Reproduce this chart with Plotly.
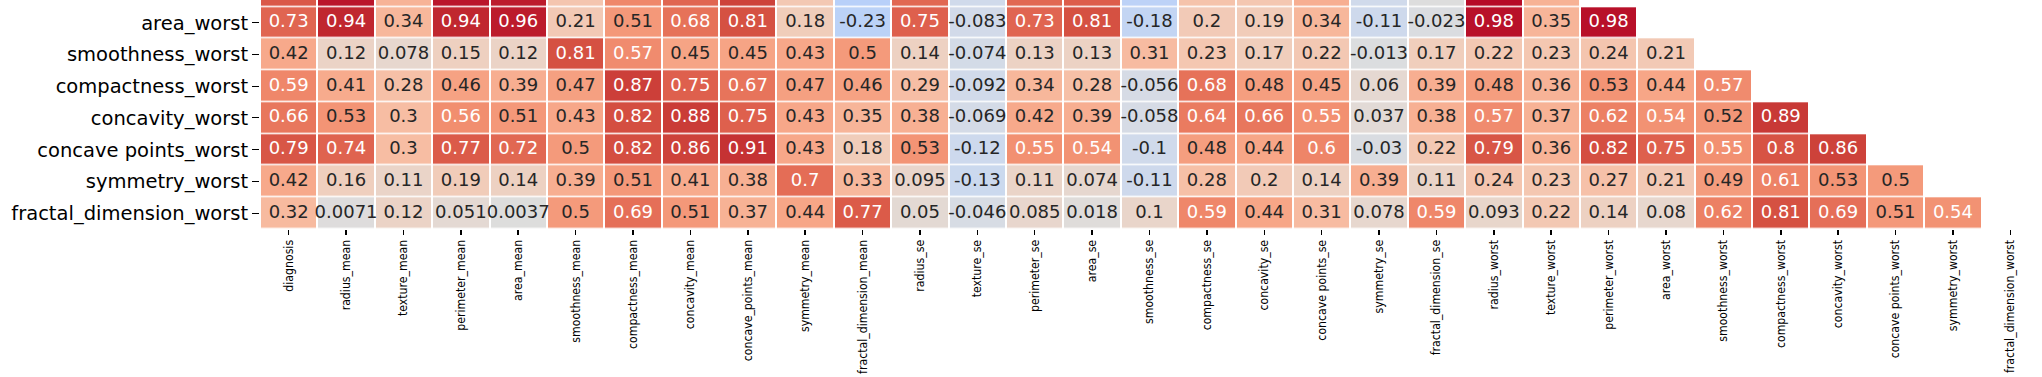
import plotly.graph_objects as go

columns = ["diagnosis", "radius_mean", "texture_mean", "perimeter_mean", "area_mean",
           "smoothness_mean", "compactness_mean", "concavity_mean", "concave_points_mean",
           "symmetry_mean", "fractal_dimension_mean", "radius_se", "texture_se", "perimeter_se",
           "area_se", "smoothness_se", "compactness_se", "concavity_se", "concave points_se",
           "symmetry_se", "fractal_dimension_se", "radius_worst", "texture_worst",
           "perimeter_worst", "area_worst", "smoothness_worst", "compactness_worst",
           "concavity_worst", "concave points_worst", "symmetry_worst", "fractal_dimension_worst"]

# visible rows of the lower-triangular correlation matrix (first one is cut off at the top)
perimeter_worst_row = [0.78, 0.97, 0.36, 0.97, 0.96, 0.24, 0.59, 0.73, 0.86, 0.22, -0.25, 0.72,
                       -0.1, 0.72, 0.76, -0.22, 0.26, 0.23, 0.39, -0.1, -0.0032, 0.99, 0.37]
area_worst_row = [0.73, 0.94, 0.34, 0.94, 0.96, 0.21, 0.51, 0.68, 0.81, 0.18, -0.23, 0.75, -0.083,
                  0.73, 0.81, -0.18, 0.2, 0.19, 0.34, -0.11, -0.023, 0.98, 0.35, 0.98]
smoothness_worst_row = [0.42, 0.12, 0.078, 0.15, 0.12, 0.81, 0.57, 0.45, 0.45, 0.43, 0.5, 0.14,
                        -0.074, 0.13, 0.13, 0.31, 0.23, 0.17, 0.22, -0.013, 0.17, 0.22, 0.23,
                        0.24, 0.21]
compactness_worst_row = [0.59, 0.41, 0.28, 0.46, 0.39, 0.47, 0.87, 0.75, 0.67, 0.47, 0.46, 0.29,
                         -0.092, 0.34, 0.28, -0.056, 0.68, 0.48, 0.45, 0.06, 0.39, 0.48, 0.36,
                         0.53, 0.44, 0.57]
concavity_worst_row = [0.66, 0.53, 0.3, 0.56, 0.51, 0.43, 0.82, 0.88, 0.75, 0.43, 0.35, 0.38,
                       -0.069, 0.42, 0.39, -0.058, 0.64, 0.66, 0.55, 0.037, 0.38, 0.57, 0.37,
                       0.62, 0.54, 0.52, 0.89]
concave_points_worst_row = [0.79, 0.74, 0.3, 0.77, 0.72, 0.5, 0.82, 0.86, 0.91, 0.43, 0.18, 0.53,
                            -0.12, 0.55, 0.54, -0.1, 0.48, 0.44, 0.6, -0.03, 0.22, 0.79, 0.36,
                            0.82, 0.75, 0.55, 0.8, 0.86]
symmetry_worst_row = [0.42, 0.16, 0.11, 0.19, 0.14, 0.39, 0.51, 0.41, 0.38, 0.7, 0.33, 0.095,
                      -0.13, 0.11, 0.074, -0.11, 0.28, 0.2, 0.14, 0.39, 0.11, 0.24, 0.23, 0.27,
                      0.21, 0.49, 0.61, 0.53, 0.5]
fractal_dimension_worst_row = [0.32, 0.0071, 0.12, 0.051, 0.0037, 0.5, 0.69, 0.51, 0.37, 0.44,
                               0.77, 0.05, -0.046, 0.085, 0.018, 0.1, 0.59, 0.44, 0.31, 0.078,
                               0.59, 0.093, 0.22, 0.14, 0.08, 0.62, 0.81, 0.69, 0.51, 0.54]

rows = [perimeter_worst_row, area_worst_row, smoothness_worst_row, compactness_worst_row,
        concavity_worst_row, concave_points_worst_row, symmetry_worst_row,
        fractal_dimension_worst_row]
first_row = 23

# matplotlib "coolwarm" (Moreland) control points
coolwarm = [
    (0.0, (59, 76, 192)), (0.03125, (68, 90, 204)), (0.0625, (77, 104, 215)),
    (0.09375, (87, 117, 225)), (0.125, (98, 130, 234)), (0.15625, (108, 142, 241)),
    (0.1875, (119, 154, 247)), (0.21875, (130, 165, 251)), (0.25, (141, 176, 254)),
    (0.28125, (152, 185, 255)), (0.3125, (163, 194, 255)), (0.34375, (174, 201, 253)),
    (0.375, (184, 208, 249)), (0.40625, (194, 213, 244)), (0.4375, (204, 217, 238)),
    (0.46875, (213, 219, 230)), (0.5, (221, 221, 221)), (0.53125, (229, 216, 209)),
    (0.5625, (236, 211, 197)), (0.59375, (241, 204, 185)), (0.625, (245, 196, 173)),
    (0.65625, (247, 187, 160)), (0.6875, (247, 177, 148)), (0.71875, (247, 166, 135)),
    (0.75, (244, 154, 123)), (0.78125, (241, 141, 111)), (0.8125, (236, 127, 99)),
    (0.84375, (229, 112, 88)), (0.875, (222, 96, 77)), (0.90625, (213, 80, 66)),
    (0.9375, (203, 62, 56)), (0.96875, (192, 40, 47)), (1.0, (180, 4, 38))]
colorscale = [[t, "rgb(%d,%d,%d)" % c] for t, c in coolwarm]


def cw(v):
    t = (v + 1) / 2
    for (t0, c0), (t1, c1) in zip(coolwarm[:-1], coolwarm[1:]):
        if t0 <= t <= t1:
            f = (t - t0) / (t1 - t0)
            return [c0[k] + f * (c1[k] - c0[k]) for k in range(3)]
    return list(coolwarm[-1][1])


def luminance(rgb):
    out = []
    for c in rgb:
        c = c / 255
        out.append(c / 12.92 if c <= 0.03928 else ((c + 0.055) / 1.055) ** 2.4)
    return 0.2126 * out[0] + 0.7152 * out[1] + 0.0722 * out[2]


n = len(columns)
z = [list(r) + [None] * (n - len(r)) for r in rows]
yidx = list(range(first_row, first_row + len(rows)))

fig = go.Figure()
fig.add_trace(go.Heatmap(
    z=z, x=list(range(n)), y=yidx, colorscale=colorscale, zmin=-1, zmax=1,
    showscale=False, xgap=2, ygap=1.5, hoverinfo="skip"))

groups = {"dark": ([], [], []), "light": ([], [], [])}
for i, r in enumerate(rows):
    if i == 0:
        continue
    for j, v in enumerate(r):
        key = "dark" if luminance(cw(v)) > 0.408 else "light"
        groups[key][0].append(j)
        groups[key][1].append(yidx[i])
        groups[key][2].append(format(v, ".2g"))

for key, color in (("dark", "#262626"), ("light", "#ffffff")):
    xs, ys, ts = groups[key]
    fig.add_trace(go.Scatter(
        x=xs, y=ys, text=ts, mode="text", textposition="middle center",
        textfont=dict(family="DejaVu Sans", size=18, color=color),
        hoverinfo="skip", showlegend=False))

fig.update_xaxes(
    tickmode="array", tickvals=list(range(n)), ticktext=columns, tickangle=-90,
    range=[-0.5, n - 0.5], showgrid=False, zeroline=False, showline=False,
    automargin=False,
    ticks="outside", ticklen=5, tickwidth=1.5, tickcolor="#000000",
    tickfont=dict(family="DejaVu Sans Condensed", size=12.2, color="#000000"))
fig.update_yaxes(
    tickmode="array", tickvals=yidx, ticktext=[columns[k] for k in yidx],
    range=[first_row + len(rows) - 0.5, first_row + 0.28], showgrid=False,
    zeroline=False, showline=False, automargin=False,
    ticks="outside", ticklen=7, tickwidth=1, tickcolor="#000000",
    tickfont=dict(family="DejaVu Sans", size=19.5, color="#000000"))

fig.update_layout(
    width=2042, height=377, margin=dict(l=260, r=3, t=0, b=148, pad=0),
    plot_bgcolor="white", paper_bgcolor="white", showlegend=False)

fig.write_html("out.html", config={"displayModeBar": False, "staticPlot": True},
               post_script="document.body.style.margin='0';document.body.style.overflow='hidden';")
